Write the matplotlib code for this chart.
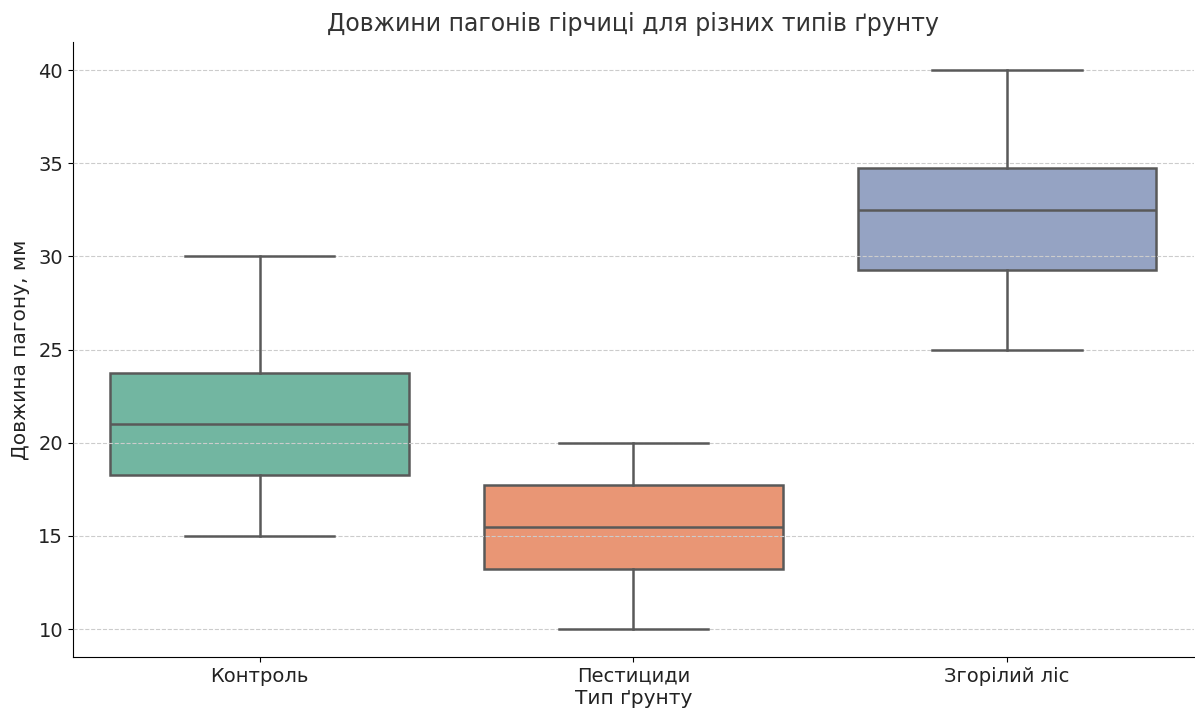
import matplotlib
matplotlib.use('Agg')
import matplotlib.pyplot as plt
import seaborn as sns

# box statistics
soil_types = ['Контроль', 'Пестициди', 'Згорілий ліс']
whisker_low = [15, 10, 25]
q1 = [18.25, 13.25, 29.25]
medians = [21, 15.5, 32.5]
q3 = [23.75, 17.75, 34.75]
whisker_high = [30, 20, 40]

colors = [sns.desaturate(c, 0.75) for c in sns.color_palette('Set2', 3)]

stats = []
for i in range(len(soil_types)):
    stats.append({'label': soil_types[i], 'whislo': whisker_low[i], 'q1': q1[i],
                  'med': medians[i], 'q3': q3[i], 'whishi': whisker_high[i], 'fliers': []})

fig, ax = plt.subplots(figsize=(11.95, 7.15), dpi=100)
fig.subplots_adjust(left=0.061, right=0.999, bottom=0.081, top=0.941)

line = dict(color='#595959', linewidth=1.8)
bp = ax.bxp(stats, positions=range(len(soil_types)), widths=0.8, patch_artist=True,
            showfliers=False, boxprops=line, medianprops=line,
            whiskerprops=line, capprops=line)
for patch, c in zip(bp['boxes'], colors):
    patch.set_facecolor(c)
    patch.set_edgecolor('#595959')
for cap in bp['caps']:
    x = cap.get_xdata()
    mid = (x[0] + x[1]) / 2
    cap.set_xdata([mid - 0.2, mid + 0.2])
    cap.set_zorder(3)
for w in bp['whiskers'] + bp['medians']:
    w.set_zorder(3)

ax.set_xlim(-0.5, 2.5)
ax.set_ylim(8.5, 41.5)
ax.set_yticks([10, 15, 20, 25, 30, 35, 40])
ax.yaxis.grid(True, linestyle='--', color='#cccccc', linewidth=0.8)
ax.set_axisbelow(False)
ax.spines['top'].set_visible(False)
ax.spines['right'].set_visible(False)
ax.tick_params(labelsize=14, labelcolor='#222222')

ax.set_title('Довжини пагонів гірчиці для різних типів ґрунту', fontsize=17, color='#333333', pad=8)
ax.set_xlabel('Тип ґрунту', fontsize=14.5, color='#222222', labelpad=2)
ax.set_ylabel('Довжина пагону, мм', fontsize=14.5, color='#222222', labelpad=6)

fig.savefig('out.png')
